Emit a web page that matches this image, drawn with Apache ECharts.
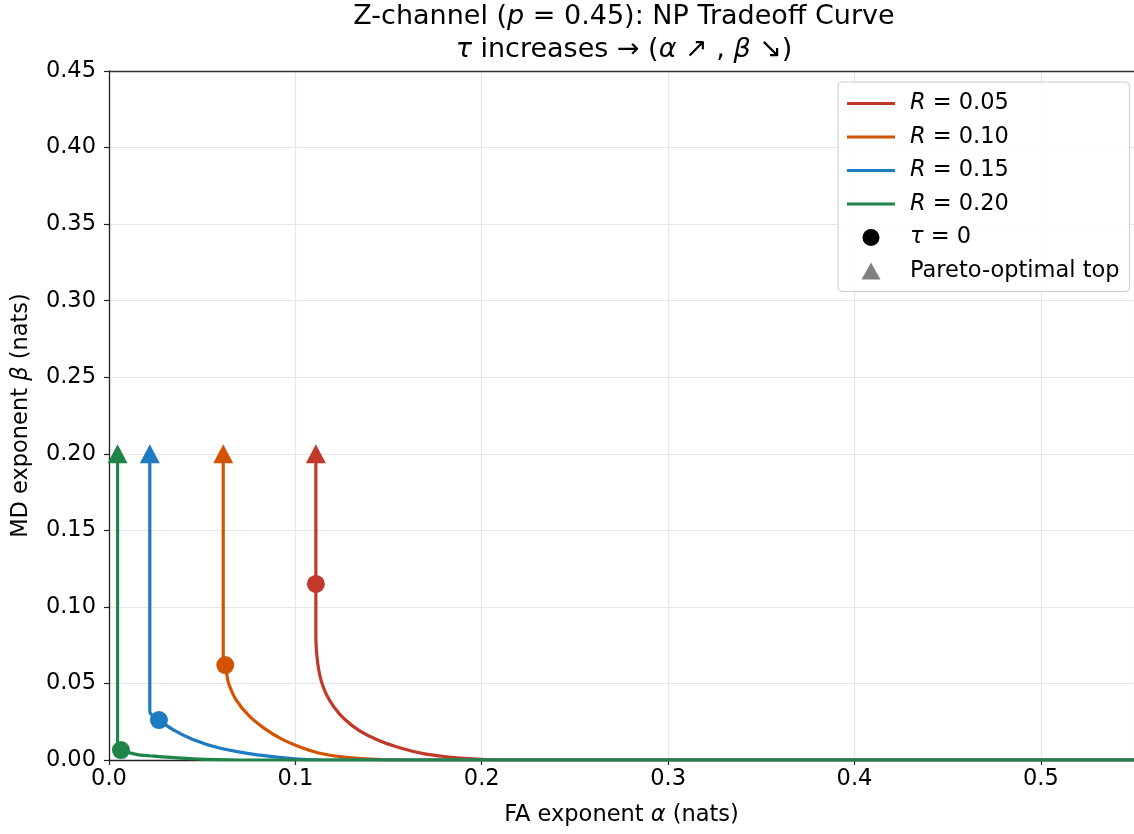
<!DOCTYPE html>
<html>
<head>
<meta charset="utf-8">
<script src="https://cdn.jsdelivr.net/npm/echarts@6/dist/echarts.min.js"></script>
<style>
html,body{margin:0;padding:0;background:#fff;}
#chart{width:1134px;height:834px;}
</style>
</head>
<body>
<div id="chart"></div>
<script>
// ---- data ----
const seriesNames = ['R = 0.05', 'R = 0.10', 'R = 0.15', 'R = 0.20'];
const curveR005 = [[0.111,0.200],[0.111,0.115],[0.111,0.080],[0.1113,0.0718],[0.1120,0.0632],[0.1130,0.0560],[0.1143,0.0500],[0.1168,0.0425],[0.1208,0.0345],[0.1263,0.0268],[0.1343,0.0192],[0.1448,0.0127],[0.1565,0.0078],[0.1680,0.0043],[0.1810,0.0021],[0.1910,0.0010],[0.2000,0.0004],[0.210,0.0001],[0.220,0],[0.55,0]];
const curveR010 = [[0.0613,0.200],[0.0613,0.068],[0.0618,0.0645],[0.0624,0.0620],[0.0632,0.0560],[0.0642,0.0500],[0.0681,0.0395],[0.0752,0.0288],[0.0841,0.0200],[0.0930,0.0135],[0.1036,0.0080],[0.1125,0.0046],[0.1250,0.0020],[0.1380,0.0007],[0.150,0.0001],[0.160,0],[0.55,0]];
const curveR015 = [[0.0219,0.200],[0.0219,0.0316],[0.0235,0.0285],[0.0268,0.0261],[0.0343,0.0198],[0.0450,0.0134],[0.0592,0.0078],[0.0734,0.0045],[0.0876,0.0022],[0.1000,0.0007],[0.110,0.0001],[0.115,0],[0.55,0]];
const curveR020 = [[0.0046,0.200],[0.0046,0.0075],[0.0064,0.0065],[0.0100,0.0050],[0.0160,0.0034],[0.0240,0.0025],[0.0334,0.0017],[0.0450,0.0008],[0.058,0.0002],[0.070,0],[0.55,0]];
const tauZeroPoints = [[0.111,0.115],[0.0624,0.0620],[0.0268,0.0261],[0.0064,0.0065]];
const paretoTopPoints = [[0.111,0.200],[0.0613,0.200],[0.0219,0.200],[0.0046,0.200]];
const tauZeroName = 'τ = 0';
const paretoName = 'Pareto-optimal top';
const yTicks = [0,0.05,0.10,0.15,0.20,0.25,0.30,0.35,0.40,0.45];
const xTicks = [0,0.1,0.2,0.3,0.4,0.5];

// ---- styles ----
const colors = ['#c0392b', '#d35400', '#1f7bc1', '#1e8449'];
const FONT = 'DejaVu Sans';
const FS = 22.5;
const TFS = 27;
const curves = [curveR005, curveR010, curveR015, curveR020];

const chart = echarts.init(document.getElementById('chart'), null, {renderer: 'canvas'});

const lineSeries = curves.map((c, i) => ({
  name: seriesNames[i],
  type: 'line',
  data: c,
  showSymbol: false,
  symbol: 'none',
  smooth: 0.25,
  color: colors[i],
  lineStyle: {width: 3.2, color: colors[i], cap: 'round', join: 'round'},
  z: 2 + i,
  animation: false
}));

const option = {
  animation: false,
  backgroundColor: '#fff',
  textStyle: {fontFamily: FONT},
  title: {
    text: '{t|Z-channel (}{ti|p}{t| = 0.45): NP Tradeoff Curve}\n{ti|τ}{t| increases → (}{ti|α}{t| ↗ , }{ti|β}{t| ↘)}',
    left: 624,
    top: 0,
    padding: 0,
    textAlign: 'center',
    textStyle: {
      fontFamily: FONT, fontSize: TFS, fontWeight: 'normal', color: '#000', lineHeight: 33,
      rich: {
        t: {fontFamily: FONT, fontSize: TFS, color: '#000', lineHeight: 33},
        ti: {fontFamily: FONT, fontSize: TFS, color: '#000', fontStyle: 'italic', lineHeight: 33}
      }
    }
  },
  grid: {left: 109, top: 71, right: -6, bottom: 74, show: false},
  legend: {
    orient: 'vertical',
    left: 838,
    top: 82,
    padding: [10, 10, 9, 9],
    itemWidth: 48,
    itemHeight: 17,
    itemGap: 10.5,
    backgroundColor: 'rgba(255,255,255,0.85)',
    borderColor: '#cccccc',
    borderWidth: 1,
    borderRadius: 4,
    symbolKeepAspect: true,
    data: [
      {name: seriesNames[0], icon: 'path://M0,0H48V3H0Z'},
      {name: seriesNames[1], icon: 'path://M0,0H48V3H0Z'},
      {name: seriesNames[2], icon: 'path://M0,0H48V3H0Z'},
      {name: seriesNames[3], icon: 'path://M0,0H48V3H0Z'},
      {name: tauZeroName, icon: 'circle'},
      {name: paretoName, icon: 'path://M0,17L9.5,0L19,17Z'}
    ],
    formatter: function (name) {
      if (name.indexOf('R = ') === 0) return '{i|R}{n| = ' + name.slice(4) + '}';
      if (name === tauZeroName) return '{i|τ}{n| = 0}';
      return '{n|' + name + '}';
    },
    textStyle: {
      fontFamily: FONT, fontSize: FS, color: '#000', lineHeight: 22, padding: [0, 0, 0, 10],
      rich: {
        i: {fontFamily: FONT, fontSize: FS, fontStyle: 'italic', color: '#000', lineHeight: 22},
        n: {fontFamily: FONT, fontSize: FS, color: '#000', lineHeight: 22}
      }
    }
  },
  xAxis: [{
    type: 'value',
    min: 0,
    max: 0.55,
    interval: 0.1,
    position: 'bottom',
    name: 'FA exponent {i|α} (nats)',
    nameLocation: 'middle',
    nameGap: 44,
    nameTextStyle: {
      fontFamily: FONT, fontSize: FS, color: '#000',
      rich: {i: {fontFamily: FONT, fontSize: FS, fontStyle: 'italic', color: '#000'}}
    },
    axisLine: {show: true, onZero: false, lineStyle: {color: '#222', width: 1.3}},
    axisTick: {show: true, inside: false, length: 5, lineStyle: {color: '#222', width: 1.2}},
    axisLabel: {
      show: true, margin: 8, fontFamily: FONT, fontSize: FS, color: '#000',
      showMaxLabel: false,
      formatter: function (v) {
        for (const t of xTicks) if (Math.abs(t - v) < 1e-9) return t.toFixed(1);
        return '';
      }
    },
    splitLine: {show: true, lineStyle: {color: '#e6e6e6', width: 1.2}}
  }, {
    type: 'value',
    min: 0,
    max: 0.55,
    position: 'top',
    axisLine: {show: true, onZero: false, lineStyle: {color: '#333', width: 1.3}},
    axisTick: {show: false},
    axisLabel: {show: false},
    splitLine: {show: false}
  }],
  yAxis: {
    type: 'value',
    min: 0,
    max: 0.45,
    interval: 0.05,
    name: 'MD exponent {i|β} (nats)',
    nameLocation: 'middle',
    nameGap: 76,
    nameRotate: 90,
    nameTextStyle: {
      fontFamily: FONT, fontSize: FS, color: '#000',
      rich: {i: {fontFamily: FONT, fontSize: FS, fontStyle: 'italic', color: '#000'}}
    },
    axisLine: {show: true, onZero: false, lineStyle: {color: '#222', width: 1.3}},
    axisTick: {show: true, inside: false, length: 5, lineStyle: {color: '#222', width: 1.2}},
    axisLabel: {
      show: true, margin: 13, fontFamily: FONT, fontSize: FS, color: '#000',
      formatter: function (v) {
        for (const t of yTicks) if (Math.abs(t - v) < 1e-9) return t.toFixed(2);
        return '';
      }
    },
    splitLine: {show: true, lineStyle: {color: '#e6e6e6', width: 1.2}}
  },
  series: lineSeries.concat([
    {
      name: tauZeroName,
      type: 'scatter',
      symbol: 'circle',
      symbolSize: 18,
      itemStyle: {color: '#000000', opacity: 1},
      data: tauZeroPoints.map((p, i) => ({value: p, itemStyle: {color: colors[i], opacity: 1}})),
      z: 10
    },
    {
      name: paretoName,
      type: 'scatter',
      symbol: 'triangle',
      symbolSize: [20, 19],
      itemStyle: {color: '#808080', opacity: 1},
      data: paretoTopPoints.map((p, i) => ({value: p, itemStyle: {color: colors[i], opacity: 1}})),
      z: 10
    }
  ])
};

chart.setOption(option);
</script>
</body>
</html>
